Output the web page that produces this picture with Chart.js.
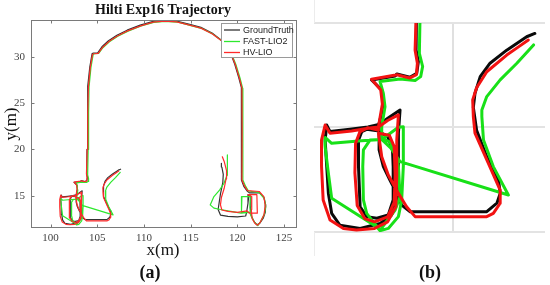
<!DOCTYPE html>
<html>
<head>
<meta charset="utf-8">
<script src="https://cdn.jsdelivr.net/npm/chart.js@4.4.0/dist/chart.umd.min.js"></script>
<style>
    html, body { margin: 0; padding: 0; background: #fff; }
    #wrap { position: relative; width: 550px; height: 285px; overflow: hidden; }
    #chartA { position: absolute; left: 0; top: 0; }
    #chartB { position: absolute; left: 300px; top: 0; }
</style>
</head>
<body>
<div id="wrap">
    <canvas id="chartA" width="300" height="285"></canvas>
    <canvas id="chartB" width="250" height="285"></canvas>
</div>
<script>
// trajetorias, pares [x, y] em metros
const groundTruth = [
    [107.5, 17.86], [107.25, 17.76], [106.64, 17.35], [106.13, 16.95], [105.83, 16.54], [105.67, 16.03], [105.62, 15.6], [105.72, 14.9],
    [106.03, 14.09], [106.39, 13.38], [106.44, 12.97], [106.34, 12.67], [106.03, 12.41], [103.69, 12.41], [103.43, 12.61], [103.28, 12.97],
    [103.07, 13.38], [102.87, 13.79], [102.74, 14.3], [102.74, 14.86], [103.0, 14.7], [103.15, 14.3], [103.17, 13.79], [103.17, 12.77],
    [103.02, 12.31], [102.67, 12.21], [102.36, 12.26], [102.16, 12.56], [102.11, 13.79], [102.11, 14.6], [102.21, 14.86], [102.36, 14.93],
    [102.74, 14.88], [102.73, 15.08], [103.05, 15.3], [103.38, 15.52], [103.33, 14.81], [103.33, 13.79], [103.28, 12.77], [103.12, 12.31],
    [102.77, 12.05], [102.16, 11.9], [101.54, 12.0], [101.29, 12.36], [101.19, 12.97], [101.14, 13.79], [101.09, 14.6], [101.14, 15.06],
    [101.24, 14.86], [101.85, 14.93], [102.4, 15.0], [102.73, 15.08], [102.8, 15.35], [102.87, 15.72], [102.82, 16.13], [102.51, 16.44],
    [103.23, 16.56], [103.28, 16.62], [103.68, 16.52], [103.89, 16.64], [103.94, 17.0], [103.87, 17.35], [103.9, 20.0], [103.95, 24.0],
    [104.0, 26.8], [104.2, 28.9], [104.35, 29.8], [104.45, 30.37], [104.6, 30.42], [105.05, 30.45], [105.5, 31.1], [106.2, 31.75],
    [107.1, 32.35], [108.2, 32.9], [109.6, 33.45], [111.0, 33.85], [112.2, 33.97], [113.5, 33.88], [115.0, 33.5], [116.1, 33.2],
    [117.3, 32.6], [118.3, 31.8], [119.1, 30.9], [119.7, 29.3], [120.15, 27.8], [120.44, 26.7], [120.45, 22.0], [120.44, 16.7],
    [120.7, 16.0], [121.05, 15.5], [121.3, 15.3], [122.4, 15.3], [122.85, 14.8], [123.05, 14.0], [123.0, 13.2], [122.8, 12.6],
    [122.4, 12.0], [122.1, 11.85], [121.8, 12.2], [121.5, 12.8], [121.4, 13.8], [121.45, 14.8], [121.25, 15.1], [121.15, 14.2],
    [121.0, 13.2], [120.9, 12.8], [120.0, 12.7], [119.0, 12.75], [118.2, 12.9], [117.95, 13.5], [118.2, 15.2], [118.45, 16.4],
    [118.5, 17.3], [118.35, 18.1], [118.3, 18.5]
];

const fastLio2 = [
    [107.46, 17.51], [106.95, 16.95], [106.44, 16.44], [106.03, 15.93], [105.88, 15.52], [105.88, 15.32], [105.93, 14.6], [106.23, 13.79],
    [106.69, 12.92], [103.38, 13.94], [103.1, 14.35], [102.82, 14.62], [102.2, 14.58], [101.29, 14.5], [101.09, 14.68], [101.09, 14.4],
    [101.19, 13.58], [101.29, 12.82], [102.66, 11.95], [102.77, 11.83], [103.02, 11.9], [103.33, 12.26], [103.43, 12.77], [103.48, 13.79],
    [103.48, 15.01], [103.33, 14.99], [102.85, 14.64], [103.05, 14.55], [103.23, 14.3], [103.33, 13.79], [103.38, 12.87], [103.23, 12.46],
    [102.92, 12.05], [102.77, 11.85], [102.56, 12.1], [102.36, 12.36], [102.26, 12.77], [102.24, 13.79], [102.26, 14.3], [102.46, 14.6],
    [102.82, 14.62], [102.82, 15.01], [102.92, 15.62], [102.87, 16.03], [102.77, 16.39], [103.38, 16.47], [103.84, 16.42], [104.01, 16.54],
    [104.07, 16.85], [103.97, 17.25], [104.02, 20.0], [104.07, 24.0], [104.12, 26.75], [104.32, 28.85], [104.47, 29.75], [104.57, 30.3],
    [104.7, 30.35], [105.15, 30.38], [105.6, 31.0], [106.3, 31.65], [107.2, 32.25], [108.3, 32.8], [109.7, 33.35], [111.05, 33.75],
    [112.25, 33.86], [113.55, 33.78], [115.05, 33.4], [116.15, 33.1], [117.35, 32.5], [118.4, 31.7], [119.2, 30.8], [119.85, 29.2],
    [120.3, 27.7], [120.58, 26.6], [120.6, 22.0], [120.6, 16.7], [120.9, 16.0], [121.2, 15.5], [122.3, 15.35], [122.9, 14.7],
    [123.05, 13.8], [122.9, 13.0], [122.5, 12.2], [122.2, 11.75], [121.8, 12.2], [121.4, 13.0], [121.35, 14.0], [121.4, 14.9],
    [120.5, 14.9], [120.45, 13.2], [121.3, 13.2], [120.4, 13.1], [119.3, 13.3], [118.2, 13.5], [117.5, 13.65], [117.1, 14.0],
    [117.5, 14.9], [118.1, 15.6], [118.58, 16.34], [118.9, 17.2], [118.94, 17.9], [118.94, 19.4]
];

const hvLio = [
    [107.3, 17.66], [107.0, 17.45], [106.64, 17.2], [106.03, 16.69], [105.72, 16.2], [105.6, 15.83], [105.62, 15.32], [105.67, 14.81],
    [106.08, 13.89], [106.44, 13.07], [106.44, 12.67], [106.23, 12.36], [106.03, 12.26], [103.84, 12.26], [103.58, 12.56], [103.33, 12.97],
    [103.02, 13.53], [102.82, 14.09], [102.72, 14.81], [103.05, 14.75], [103.2, 14.4], [103.23, 13.5], [103.2, 12.7], [103.0, 12.25],
    [102.6, 12.1], [102.3, 12.2], [102.07, 12.6], [102.0, 13.6], [102.02, 14.5], [102.15, 14.85], [102.4, 14.98], [102.72, 14.9],
    [102.72, 15.0], [103.0, 15.2], [103.33, 15.37], [103.28, 14.6], [103.28, 13.5], [103.25, 12.56], [103.0, 12.1], [102.6, 11.9],
    [102.05, 11.85], [101.65, 11.9], [101.24, 12.16], [101.03, 12.77], [100.98, 13.8], [100.98, 14.6], [101.09, 15.06], [101.24, 14.81],
    [101.9, 14.88], [102.45, 14.97], [102.72, 15.0], [102.77, 15.3], [102.84, 15.7], [102.79, 16.13], [102.51, 16.46], [103.2, 16.58],
    [103.28, 16.6], [103.68, 16.5], [103.88, 16.6], [103.91, 16.95], [103.84, 17.35], [103.92, 20.0], [103.98, 24.0], [104.05, 26.75],
    [104.25, 28.85], [104.4, 29.75], [104.5, 30.3], [104.65, 30.35], [105.1, 30.38], [105.55, 31.02], [106.25, 31.67], [107.15, 32.27],
    [108.25, 32.82], [109.65, 33.37], [111.0, 33.77], [112.2, 33.88], [113.5, 33.8], [115.0, 33.42], [116.1, 33.12], [117.3, 32.52],
    [118.35, 31.72], [119.15, 30.82], [119.78, 29.22], [120.23, 27.72], [120.5, 26.65], [120.52, 22.0], [120.5, 16.7], [120.8, 16.0],
    [121.1, 15.55], [122.35, 15.45], [122.85, 14.9], [123.0, 13.9], [122.85, 12.9], [122.45, 12.1], [122.2, 11.8], [121.9, 12.0],
    [121.6, 12.5], [121.5, 13.5], [121.55, 14.9], [121.15, 15.1], [122.1, 15.1], [122.15, 13.1], [121.3, 13.1], [121.05, 13.35],
    [120.0, 13.2], [119.0, 13.3], [118.35, 13.45], [118.2, 14.0], [118.3, 14.8], [118.6, 15.8], [118.8, 16.8], [118.85, 17.7],
    [118.6, 18.7], [118.4, 19.2]
];

const nomesSeries = ["GroundTruth", "FAST-LIO2", "HV-LIO"];

// eixos da figura (a)
const xTicksA = [100, 105, 110, 115, 120, 125];
const yTicksA = [15, 20, 25, 30];
const xLimA = [97.9, 126.4];
const yLimA = [11.5, 34];

// recorte ampliado (b)
const xGradeB = [105];
const yGradeB = [11.79, 15, 18.18];
const xLimB = [100.75, 107.81];
const yLimB = [11.79, 18.18];

const coresA = ["#333333", "#2ee82e", "#ff2a2a"];
const coresB = ["#0a0a0a", "#18e018", "#f21212"];
const serif = "'Liberation Serif', 'Times New Roman', serif";

function pontos(lista) {
    return lista.map(p => ({ x: p[0], y: p[1] }));
}

function montarDatasets(cores, largura) {
    const series = [groundTruth, fastLio2, hvLio];
    const ordem = [3, 2, 1];

    return series.map((s, i) => ({
        label: nomesSeries[i],
        data: pontos(s),
        showLine: true,
        borderColor: cores[i],
        backgroundColor: cores[i],
        borderWidth: largura,
        pointRadius: 0,
        tension: 0,
        fill: false,
        order: ordem[i],
        borderJoinStyle: "round",
        borderCapStyle: "round",
        clip: 0
    }));
}

const molduraA = {
    id: "molduraA",
    afterDraw(chart) {
        const ctx = chart.ctx;
        const a = chart.chartArea;
        const sx = chart.scales.x;
        const sy = chart.scales.y;
        const l = Math.round(a.left) + 0.5;
        const t = Math.round(a.top) + 0.5;
        const r = Math.round(a.right) - 0.5;
        const b = Math.round(a.bottom) - 0.5;

        ctx.save();
        ctx.strokeStyle = "#7a7a7a";
        ctx.lineWidth = 1;
        ctx.strokeRect(l, t, r - l, b - t);

        // marcas para dentro, estilo matlab
        ctx.beginPath();
        xTicksA.forEach(v => {
            const px = Math.round(sx.getPixelForValue(v)) + 0.5;
            ctx.moveTo(px, b); ctx.lineTo(px, b - 3);
            ctx.moveTo(px, t); ctx.lineTo(px, t + 3);
        });
        yTicksA.forEach(v => {
            const py = Math.round(sy.getPixelForValue(v)) + 0.5;
            ctx.moveTo(l, py); ctx.lineTo(l + 3, py);
            ctx.moveTo(r, py); ctx.lineTo(r - 3, py);
        });
        ctx.stroke();

        // legenda
        const lx = 221.5, ly = 23.5, lw = 71, lh = 34;
        ctx.fillStyle = "#ffffff";
        ctx.fillRect(lx, ly, lw, lh);
        ctx.strokeStyle = "#9a9a9a";
        ctx.strokeRect(lx, ly, lw, lh);
        ctx.font = "9px 'Liberation Sans', Arial, sans-serif";
        ctx.textBaseline = "middle";
        ctx.textAlign = "left";
        const linhas = [30, 41.5, 52.5];
        for (let i = 0; i < nomesSeries.length; i++) {
            ctx.strokeStyle = coresA[i];
            ctx.lineWidth = 1.3;
            ctx.beginPath();
            ctx.moveTo(224, linhas[i]);
            ctx.lineTo(240, linhas[i]);
            ctx.stroke();
            ctx.fillStyle = "#222222";
            ctx.fillText(nomesSeries[i], 243, linhas[i] + 0.5);
        }

        // titulos
        ctx.fillStyle = "#111111";
        ctx.textAlign = "center";
        ctx.font = "bold 14px " + serif;
        ctx.fillText("Hilti Exp16 Trajectory", 163, 10);
        ctx.font = "17px " + serif;
        ctx.fillText("x(m)", 163, 251);
        ctx.font = "bold 18px " + serif;
        ctx.fillText("(a)", 150, 273);

        ctx.translate(12, 124);
        ctx.rotate(-Math.PI / 2);
        ctx.font = "17px " + serif;
        ctx.fillText("y(m)", 0, 0);
        ctx.restore();
    }
};

const rotuloB = {
    id: "rotuloB",
    afterDraw(chart) {
        const ctx = chart.ctx;
        ctx.save();
        ctx.strokeStyle = "#ececec";
        ctx.lineWidth = 1;
        ctx.beginPath();
        ctx.moveTo(14.5, 0); ctx.lineTo(14.5, 23);
        ctx.moveTo(14.5, 232); ctx.lineTo(14.5, 256);
        ctx.stroke();

        ctx.fillStyle = "#111111";
        ctx.textAlign = "center";
        ctx.textBaseline = "middle";
        ctx.font = "bold 18px " + serif;
        ctx.fillText("(b)", 130, 273);
        ctx.restore();
    }
};

new Chart(document.getElementById("chartA"), {
    type: "scatter",
    data: { datasets: montarDatasets(coresA, 1.2) },
    options: {
        responsive: false,
        animation: false,
        layout: { padding: { top: 20, right: 3, left: 0, bottom: 0 } },
        plugins: { legend: { display: false }, tooltip: { enabled: false } },
        scales: {
            x: {
                type: "linear",
                min: xLimA[0],
                max: xLimA[1],
                afterBuildTicks: scale => { scale.ticks = xTicksA.map(v => ({ value: v })); },
                afterFit: scale => { scale.height = 57; },
                grid: { display: false, drawTicks: false },
                border: { display: false },
                ticks: { color: "#444444", padding: 4, font: { family: serif, size: 11 }, maxRotation: 0 }
            },
            y: {
                type: "linear",
                min: yLimA[0],
                max: yLimA[1],
                afterBuildTicks: scale => { scale.ticks = yTicksA.map(v => ({ value: v })); },
                afterFit: scale => { scale.width = 31; },
                grid: { display: false, drawTicks: false },
                border: { display: false },
                ticks: { color: "#444444", padding: 6, font: { family: serif, size: 11 } }
            }
        }
    },
    plugins: [molduraA]
});

new Chart(document.getElementById("chartB"), {
    type: "scatter",
    data: { datasets: montarDatasets(coresB, 3) },
    options: {
        responsive: false,
        animation: false,
        layout: { padding: { top: 23, right: 5, left: 14, bottom: 53 } },
        plugins: { legend: { display: false }, tooltip: { enabled: false } },
        scales: {
            x: {
                type: "linear",
                min: xLimB[0],
                max: xLimB[1],
                afterBuildTicks: scale => { scale.ticks = xGradeB.map(v => ({ value: v })); },
                afterFit: scale => { scale.height = 0; },
                grid: { color: "#e0e0e0", lineWidth: 2, drawTicks: false },
                border: { display: false },
                ticks: { display: false }
            },
            y: {
                type: "linear",
                min: yLimB[0],
                max: yLimB[1],
                afterBuildTicks: scale => { scale.ticks = yGradeB.map(v => ({ value: v })); },
                afterFit: scale => { scale.width = 0; },
                grid: { color: "#e3e3e3", lineWidth: 2, drawTicks: false },
                border: { display: false },
                ticks: { display: false }
            }
        }
    },
    plugins: [rotuloB]
});
</script>
</body>
</html>
